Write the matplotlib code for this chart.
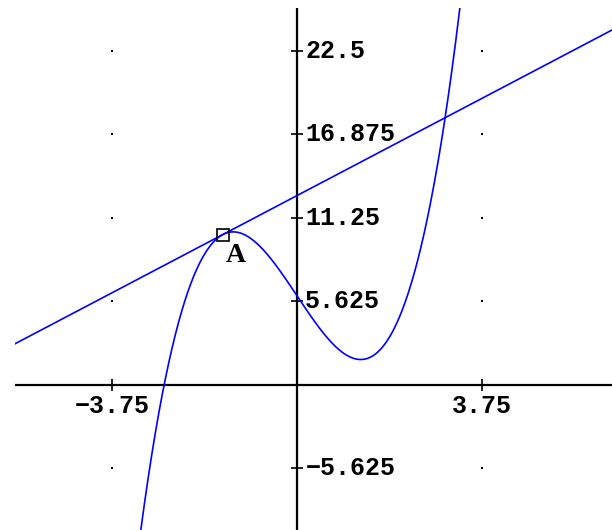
import matplotlib.pyplot as plt
import numpy as np

# curve y = x^3 - 5x + 6, tangent line drawn at point A
curve_coeffs = [1, 0, -5, 6]
point_A_x = -1.5
point_A_label = 'A'

x_ticks = [-3.75, 3.75]
x_tick_labels = ['\u22123.75', '3.75']
y_ticks = [-5.625, 5.625, 11.25, 16.875, 22.5]
y_tick_labels = ['\u22125.625', '5.625', '11.25', '16.875', '22.5']

x_lo, x_hi = -5.71, 6.38
y_lo, y_hi = -9.8, 25.4

fig = plt.figure(figsize=(6.12, 5.30), dpi=100)
ax = fig.add_axes([15 / 612, 0, 597 / 612, 522 / 530])
ax.set_xlim(x_lo, x_hi)
ax.set_ylim(y_lo, y_hi)
ax.axis('off')

# axes through the origin
ax.axhline(0, color='black', lw=1.6, zorder=1)
ax.axvline(0, color='black', lw=1.6, zorder=1)
ax.plot(x_ticks, [0] * len(x_ticks), ls='none', marker='|', ms=8, mew=1.2, color='black')
ax.plot([0] * len(y_ticks), y_ticks, ls='none', marker='_', ms=8, mew=1.2, color='black')

# grid dots
gx, gy = np.meshgrid(x_ticks, y_ticks)
ax.plot(gx.ravel(), gy.ravel(), ls='none', marker='s', ms=1.8, color='black', mew=0)

tick_font = dict(family='Liberation Mono', weight='bold', size=18)
for t, lab in zip(x_ticks, x_tick_labels):
    ax.annotate(lab, (t, 0), xytext=(0, -7), textcoords='offset points',
                ha='center', va='top', **tick_font)
for t, lab in zip(y_ticks, y_tick_labels):
    ax.annotate(lab, (0, t), xytext=(6, 0), textcoords='offset points',
                ha='left', va='center', **tick_font)

# cubic
xs = np.linspace(x_lo, x_hi, 1500)
ax.plot(xs, np.polyval(curve_coeffs, xs), color='#0000ff', lw=1.2, zorder=3)

# tangent at A
yA = np.polyval(curve_coeffs, point_A_x)
slope = np.polyval(np.polyder(curve_coeffs), point_A_x)
ax.plot([x_lo, x_hi], [yA + slope * (x_lo - point_A_x), yA + slope * (x_hi - point_A_x)],
        color='#0000ff', lw=1.2, zorder=3)

ax.plot([point_A_x], [yA], ls='none', marker='s', ms=8, mfc='none', mec='black', mew=1.2, zorder=4)
ax.annotate(point_A_label, (point_A_x, yA), xytext=(2, -6), textcoords='offset points',
            ha='left', va='top', family='Liberation Serif', weight='bold', size=20)

fig.savefig('out.png', dpi=100)
